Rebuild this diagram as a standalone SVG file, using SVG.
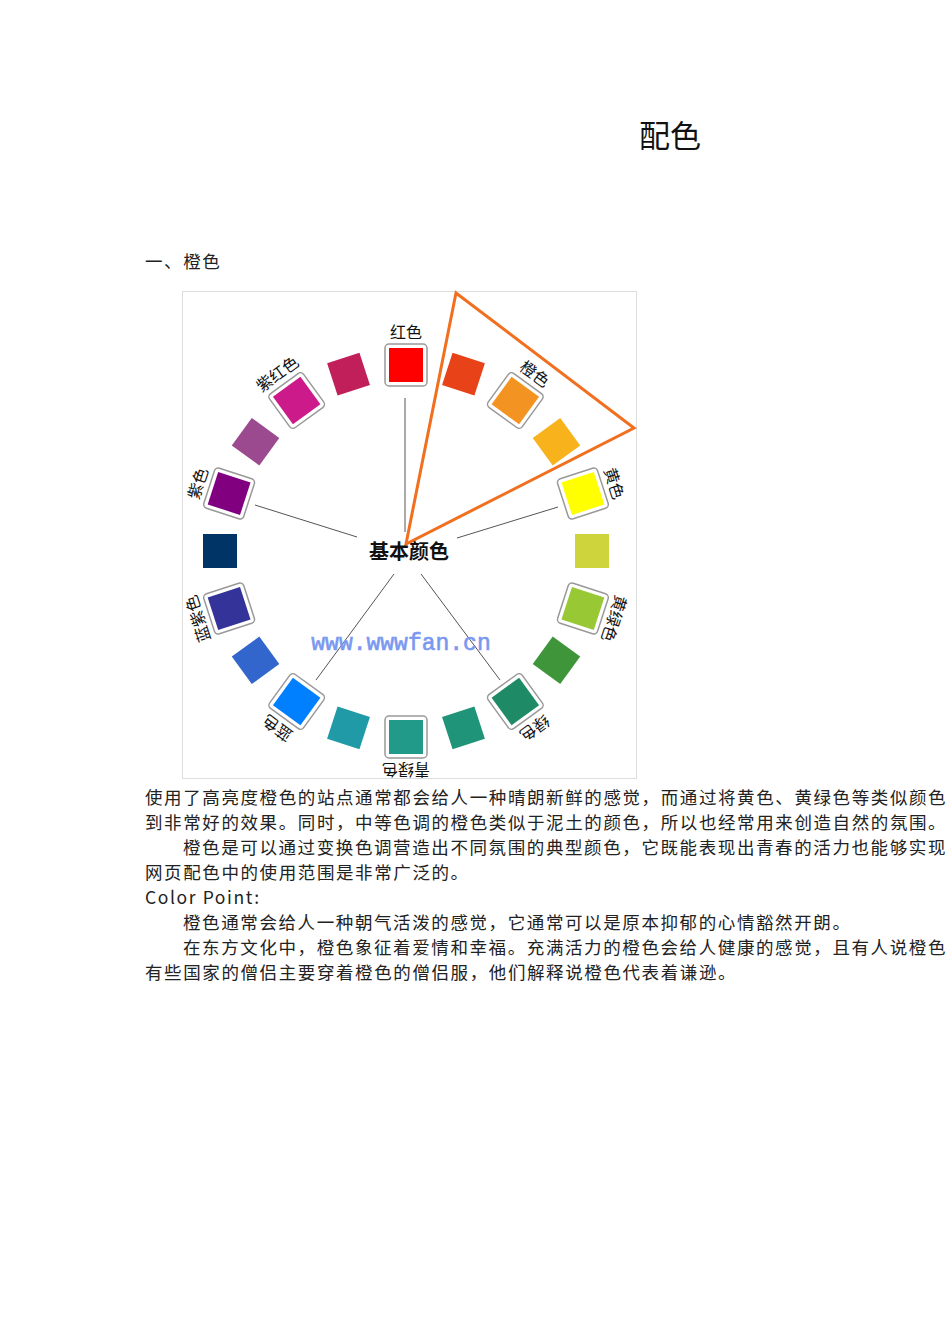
<svg xmlns="http://www.w3.org/2000/svg" width="950" height="1344" viewBox="0 0 950 1344">
<style>
.t{font-family:"Noto Sans CJK SC",sans-serif;font-size:17.5px;letter-spacing:1.6px;fill:#222}
.lb{font-family:"Noto Sans CJK SC",sans-serif;font-size:16px;fill:#111;text-anchor:middle}
.fr{fill:#fff;stroke:#999;stroke-width:1.5}
.ln{stroke:#555;stroke-width:1;fill:none}
</style>
<defs>
<g id="sq"><rect x="-17" y="-17" width="34" height="34"/></g>
</defs>
<rect width="950" height="1344" fill="#fff"/>
<text x="670" y="147" font-family="Noto Sans CJK SC,sans-serif" font-size="31" text-anchor="middle" fill="#111">配色</text>
<text x="145" y="268" class="t" font-size="19" letter-spacing="1">一、橙色</text>
<g id="wheel">
<rect x="182.5" y="291.5" width="454" height="487" fill="#fff" stroke="#ddd"/>
<g id="connectors">
<line class="ln" x1="405" y1="398" x2="405" y2="532"/>
<line class="ln" x1="255" y1="505" x2="357" y2="537"/>
<line class="ln" x1="457" y1="538" x2="558" y2="507"/>
<line class="ln" x1="394" y1="574" x2="316" y2="680"/>
<line class="ln" x1="421" y1="574" x2="500" y2="680"/>
</g>
<g transform="translate(406,551)">
<g id="n0" transform="rotate(0)"><g transform="translate(0,-186)"><rect class="fr" x="-21" y="-21" width="42" height="42" rx="4"/><use href="#sq" fill="#ff0000"/></g><text class="lb" y="-213">红色</text></g>
<g transform="rotate(18)"><use href="#sq" y="-186" fill="#e84218"/></g>
<g id="n36" transform="rotate(36)"><g transform="translate(0,-186)"><rect class="fr" x="-21" y="-21" width="42" height="42" rx="4"/><use href="#sq" fill="#f39422"/></g><text class="lb" y="-213">橙色</text></g>
<g transform="rotate(54)"><use href="#sq" y="-186" fill="#f8b21c"/></g>
<g id="n72" transform="rotate(72)"><g transform="translate(0,-186)"><rect class="fr" x="-21" y="-21" width="42" height="42" rx="4"/><use href="#sq" fill="#ffff00"/></g><text class="lb" y="-213">黄色</text></g>
<g transform="rotate(90)"><use href="#sq" y="-186" fill="#cdd43c"/></g>
<g id="n108" transform="rotate(108)"><g transform="translate(0,-186)"><rect class="fr" x="-21" y="-21" width="42" height="42" rx="4"/><use href="#sq" fill="#98c934"/></g><text class="lb" y="-213">黄绿色</text></g>
<g transform="rotate(126)"><use href="#sq" y="-186" fill="#3f963a"/></g>
<g id="n144" transform="rotate(144)"><g transform="translate(0,-186)"><rect class="fr" x="-21" y="-21" width="42" height="42" rx="4"/><use href="#sq" fill="#1f8a66"/></g><text class="lb" y="-213">绿色</text></g>
<g transform="rotate(162)"><use href="#sq" y="-186" fill="#1f9479"/></g>
<g id="n180" transform="rotate(180)"><g transform="translate(0,-186)"><rect class="fr" x="-21" y="-21" width="42" height="42" rx="4"/><use href="#sq" fill="#229a8a"/></g><text class="lb" y="-213">青绿色</text></g>
<g transform="rotate(198)"><use href="#sq" y="-186" fill="#1f9aa6"/></g>
<g id="n216" transform="rotate(216)"><g transform="translate(0,-186)"><rect class="fr" x="-21" y="-21" width="42" height="42" rx="4"/><use href="#sq" fill="#0080ff"/></g><text class="lb" y="-213">蓝色</text></g>
<g transform="rotate(234)"><use href="#sq" y="-186" fill="#3366cc"/></g>
<g id="n252" transform="rotate(252)"><g transform="translate(0,-186)"><rect class="fr" x="-21" y="-21" width="42" height="42" rx="4"/><use href="#sq" fill="#333399"/></g><text class="lb" y="-213">蓝紫色</text></g>
<g transform="rotate(270)"><use href="#sq" y="-186" fill="#003366"/></g>
<g id="n288" transform="rotate(288)"><g transform="translate(0,-186)"><rect class="fr" x="-21" y="-21" width="42" height="42" rx="4"/><use href="#sq" fill="#800080"/></g><text class="lb" y="-213">紫色</text></g>
<g transform="rotate(306)"><use href="#sq" y="-186" fill="#9b4a8f"/></g>
<g id="n324" transform="rotate(324)"><g transform="translate(0,-186)"><rect class="fr" x="-21" y="-21" width="42" height="42" rx="4"/><use href="#sq" fill="#cc1a8a"/></g><text class="lb" y="-213">紫红色</text></g>
<g transform="rotate(342)"><use href="#sq" y="-186" fill="#c01f5a"/></g>
</g>
<polygon id="triangle" points="456,293 634,428 406,544" fill="none" stroke="#f07020" stroke-width="3" stroke-linejoin="miter"/>
<text id="center" x="409" y="559" font-family="Noto Sans CJK SC,sans-serif" font-weight="bold" font-size="20" text-anchor="middle" fill="#111">基本颜色</text>
<text x="401" y="650" font-family="Liberation Mono,monospace" font-size="23" text-anchor="middle" fill="#7a98f0" stroke="#7a98f0" stroke-width="0.6">www.wwwfan.cn</text>
</g>
<text class="t" x="145" y="804">使用了高亮度橙色的站点通常都会给人一种晴朗新鲜的感觉，而通过将黄色、黄绿色等类似颜色</text>
<text class="t" x="145" y="829">到非常好的效果。同时，中等色调的橙色类似于泥土的颜色，所以也经常用来创造自然的氛围。</text>
<text class="t" x="183" y="854">橙色是可以通过变换色调营造出不同氛围的典型颜色，它既能表现出青春的活力也能够实现</text>
<text class="t" x="145" y="879">网页配色中的使用范围是非常广泛的。</text>
<text class="t" x="145" y="904" font-family="Liberation Mono,monospace" font-size="17" letter-spacing="0">Color Point:</text>
<text class="t" x="183" y="929">橙色通常会给人一种朝气活泼的感觉，它通常可以是原本抑郁的心情豁然开朗。</text>
<text class="t" x="183" y="954">在东方文化中，橙色象征着爱情和幸福。充满活力的橙色会给人健康的感觉，且有人说橙色</text>
<text class="t" x="145" y="979">有些国家的僧侣主要穿着橙色的僧侣服，他们解释说橙色代表着谦逊。</text>
</svg>
